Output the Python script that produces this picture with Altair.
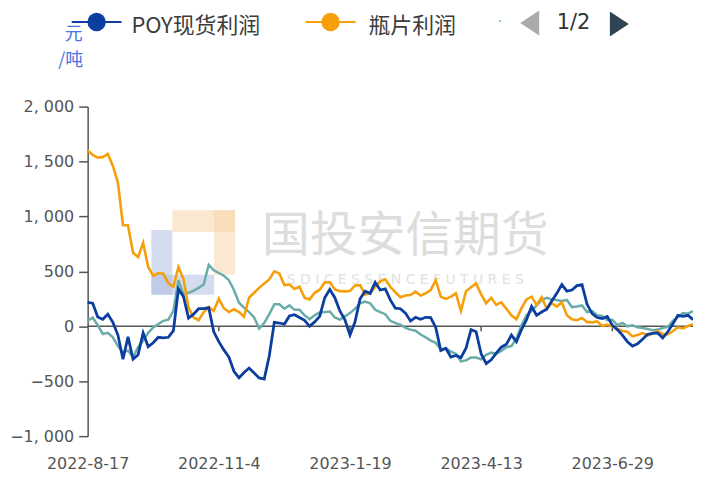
import altair as alt
import pandas as pd

# ---------------- data ----------------
x_labels = ["2022-8-17", "2022-11-4", "2023-1-19", "2023-4-13", "2023-6-29"]
label_step = 26
y_ticks = [2000, 1500, 1000, 500, 0, -500, -1000]
series_names = ["POY现货利润", "瓶片利润", "系列3"]
series_colors = ["#0b3e9e", "#f59f0a", "#6aacaa"]

poy = [218, 210, 85, 64, 109, 36, -80, -300, -95, -300,
       -260, -60, -185, -150, -100, -105, -100, -40, 340, 270,
       75, 110, 160, 160, 170, -50, -140, -215, -280, -410,
       -470, -420, -380, -425, -470, -480, -270, 36, 30, 20,
       94, 105, 80, 55, 0, 40, 90, 260, 336, 260,
       140, 60, -80, 40, 250, 320, 300, 400, 330, 340,
       240, 165, 160, 120, 48, 82, 64, 82, 80, -10,
       -220, -200, -280, -265, -285, -200, -30, -50, -250, -340,
       -305, -245, -190, -164, -80, -140, -30, 60, 180, 100,
       130, 155, 230, 300, 380, 320, 330, 370, 380, 200,
       115, 80, 70, 90, 10, -30, -80, -140, -180, -160,
       -118, -73, -65, -60, -105, -50, 20, 100, 90, 100,
       60]

bottle = [1600, 1560, 1536, 1540, 1570, 1460, 1309, 920, 920, 670,
          630, 760, 540, 460, 485, 478, 390, 360, 540, 430,
          170, 80, 55, 130, 175, 140, 250, 165, 130, 155,
          130, 88, 260, 305, 350, 390, 427, 500, 480, 375,
          380, 340, 360, 260, 245, 305, 333, 400, 400, 336,
          320, 318, 321, 372, 375, 290, 300, 360, 410, 427,
          360, 310, 265, 280, 285, 315, 280, 300, 330, 420,
          270, 250, 270, 300, 140, 320, 355, 390, 291, 210,
          260, 195, 218, 160, 100, 64, 165, 245, 270, 195,
          264, 160, 210, 180, 218, 100, 64, 55, 75, 40,
          36, 45, 5, 15, 0, -25, -43, -50, -92, -80,
          -60, -85, -65, -45, -70, -73, -45, -9, -20, 3,
          20]

third = [48, 80, 10, -70, -60, -100, -180, -240, -220, -280,
         -190, -130, -60, -10, 20, 50, 60, 140, 420, 290,
         305, 325, 350, 380, 560, 510, 485, 460, 420, 330,
         215, 170, 130, 80, -20, 30, 110, 200, 200, 160,
         190, 150, 150, 100, 64, 100, 127, 130, 135, 80,
         60, 90, 120, 160, 210, 225, 210, 150, 130, 110,
         50, 30, 15, -15, -30, -40, -75, -100, -130, -150,
         -210, -200, -230, -250, -320, -310, -285, -285, -300, -260,
         -240, -250, -225, -190, -180, -110, 10, 100, 140, 190,
         240, 260, 245, 240, 230, 240, 175, 180, 190, 130,
         139, 100, 94, 55, 60, 10, 30, 0, 10, -9,
         -15, -25, -35, -30, -15, -5, 50, 82, 120, 115,
         139]

W, H = 608, 331

label_list = "[" + ",".join("'%s'" % s for s in x_labels) + "]"
x_enc = alt.X(
    "i:Q",
    scale=alt.Scale(domain=[0, 120], nice=False, zero=False),
    axis=alt.Axis(
        values=[k * label_step for k in range(len(x_labels))],
        labelExpr=label_list + "[round(datum.value/%d)]" % label_step,
        domain=False, ticks=False, grid=False, title=None,
        labelPadding=19, labelFont="DejaVu Sans", labelFontSize=16,
        labelColor="#555555", labelAlign="center", labelOverlap=False,
    ),
)
y_enc = alt.Y(
    "v:Q",
    scale=alt.Scale(domain=[-1000, 2000], nice=False, zero=False),
    axis=alt.Axis(
        values=y_ticks,
        labelExpr="replace(format(datum.value, ','), ',', ', ')",
        domainColor="#555555", domainWidth=1.5,
        tickColor="#555555", tickWidth=1.5, tickSize=9,
        labelPadding=5, grid=False, title=None,
        labelFont="DejaVu Sans", labelFontSize=16, labelColor="#555555",
    ),
)


def series_df(vals):
    return pd.DataFrame({"i": list(range(len(vals))), "v": vals})


def line_layer(vals, color, width):
    return alt.Chart(series_df(vals)).mark_line(
        color=color, strokeWidth=width, interpolate="linear"
    ).encode(x=x_enc, y=y_enc)


one = pd.DataFrame({"t": [""]})


def text_layer(txt, x, y, **kw):
    return alt.Chart(pd.DataFrame({"t": [txt]})).mark_text(**kw).encode(
        text="t:N", x=alt.value(x), y=alt.value(y)
    )


def rect_layer(x, x2, y, y2, color):
    return alt.Chart(one).mark_rect(color=color, opacity=0.5).encode(
        x=alt.value(x), x2=alt.value(x2), y=alt.value(y), y2=alt.value(y2)
    )


# watermark
wm = [
    rect_layer(64, 85, 124, 189, "#a9bbe2"),
    rect_layer(64, 127, 169, 189, "#a9bbe2"),
    rect_layer(85, 148, 104, 126, "#f6d3a2"),
    rect_layer(127, 148, 104, 169, "#f6d3a2"),
    text_layer("国投安信期货", 319, 131, font="Noto Sans CJK SC", fontSize=48,
               color="#dddddd", align="center", baseline="middle"),
    text_layer("S D I C   E S S E N C E   F U T U R E S", 319, 174,
               font="DejaVu Sans", fontSize=14, color="#e2e2e2",
               align="center", baseline="middle"),
]

zero_line = alt.Chart(pd.DataFrame({"v": [0]})).mark_rule(
    color="#555555", strokeWidth=1.5
).encode(y=y_enc)

tick_df = pd.DataFrame({
    "i": [k * label_step for k in range(1, len(x_labels))],
    "v": [0] * (len(x_labels) - 1),
    "v2": [-45] * (len(x_labels) - 1),
})
zero_ticks = alt.Chart(tick_df).mark_rule(color="#555555", strokeWidth=1.5).encode(
    x=x_enc, y=y_enc, y2="v2:Q"
)

lines = [
    line_layer(third, series_colors[2], 2.5),
    line_layer(bottle, series_colors[1], 2.6),
    line_layer(poy, series_colors[0], 2.8),
]

# legend (ECharts-style, page 1/2)
LY = -85
TY = -81
TRI_L = "M 0.95 -1.25 L 0.95 1.25 L -0.95 0 Z"
TRI_R = "M -0.95 -1.25 L -0.95 1.25 L 0.95 0 Z"


def legend_symbol(cx, color):
    rule = alt.Chart(one).mark_rule(color=color, strokeWidth=2).encode(
        x=alt.value(cx - 25), x2=alt.value(cx + 25), y=alt.value(LY)
    )
    dot = alt.Chart(one).mark_point(
        shape="circle", filled=True, size=340, color=color, opacity=1
    ).encode(x=alt.value(cx), y=alt.value(LY))
    return [rule, dot]


legend = (
    legend_symbol(9, series_colors[0])
    + [text_layer(series_names[0], 44, TY, font="Noto Sans CJK SC", fontSize=22,
                  color="#3c3c3c", align="left", baseline="middle")]
    + legend_symbol(244, series_colors[1])
    + [text_layer(series_names[1], 282, TY, font="Noto Sans CJK SC", fontSize=22,
                  color="#3c3c3c", align="left", baseline="middle")]
    + [text_layer("·", 414, LY, font="DejaVu Sans", fontSize=14,
                  color="#6aacaa", align="center", baseline="middle")]
    + [alt.Chart(one).mark_point(shape=TRI_L, filled=True, size=400,
                                 color="#aaaaaa", opacity=1).encode(
        x=alt.value(444), y=alt.value(LY + 1))]
    + [text_layer("1/2", 488, LY + 1, font="DejaVu Sans", fontSize=21,
                  color="#333333", align="center", baseline="middle")]
    + [alt.Chart(one).mark_point(shape=TRI_R, filled=True, size=400,
                                 color="#2f4554", opacity=1).encode(
        x=alt.value(534), y=alt.value(LY + 2))]
    + [text_layer("元", -14, -72, font="Noto Sans CJK SC", fontSize=18,
                  color="#4a74e0", align="center", baseline="middle"),
       text_layer("/吨", -17, -46, font="Noto Sans CJK SC", fontSize=18,
                  color="#4a74e0", align="center", baseline="middle")]
)

chart = alt.layer(*(wm + [zero_line, zero_ticks] + lines + legend)).properties(
    width=W, height=H,
    padding={"left": 80, "top": 98, "right": 0, "bottom": 40},
    autosize=alt.AutoSizeParams(type="none"),
).configure_view(stroke=None)

chart.save("out.html", embed_options={"renderer": "svg", "actions": False})
